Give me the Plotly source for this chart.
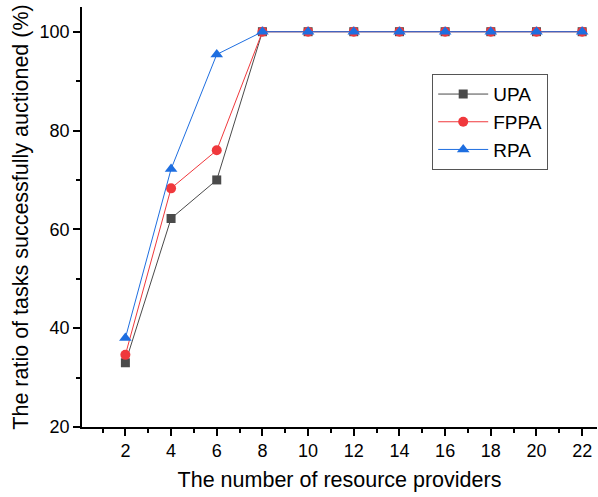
import plotly.graph_objects as go

x_vals = [2, 4, 6, 8, 10, 12, 14, 16, 18, 20, 22]
upa = [33.0, 62.2, 70.0, 100, 100, 100, 100, 100, 100, 100, 100]
fppa = [34.6, 68.3, 76.0, 100, 100, 100, 100, 100, 100, 100, 100]
rpa = [38.0, 72.2, 95.4, 100, 100, 100, 100, 100, 100, 100, 100]

FONT = "Liberation Sans, Arial"

fig = go.Figure()
fig.add_trace(go.Scatter(x=x_vals, y=upa, name="UPA", mode="lines+markers",
                         line=dict(color="#4a4a4a", width=1),
                         marker=dict(symbol="square", size=9, color="#4a4a4a")))
fig.add_trace(go.Scatter(x=x_vals, y=fppa, name="FPPA", mode="lines+markers",
                         line=dict(color="#f0383c", width=1),
                         marker=dict(symbol="circle", size=10, color="#f0383c")))
fig.add_trace(go.Scatter(x=x_vals, y=rpa, name="RPA", mode="lines+markers",
                         line=dict(color="#1e6ee0", width=1),
                         marker=dict(symbol="triangle-up", size=11, color="#1e6ee0")))

axis_common = dict(showline=True, linecolor="black", linewidth=1.5, ticks="outside",
                   ticklen=7, tickwidth=1.5, tickcolor="black", showgrid=False,
                   zeroline=False, mirror=False, automargin=False,
                   tickfont=dict(family=FONT, size=18, color="black"))

fig.update_xaxes(range=[0.1, 22.65], tickvals=x_vals,
                 minor=dict(ticks="outside", ticklen=4, tickwidth=1.5, tickcolor="black", dtick=2, tick0=1),
                 title=dict(text="The number of resource providers",
                            font=dict(family=FONT, size=21.5, color="black"), standoff=12),
                 **axis_common)
fig.update_yaxes(range=[20, 105], tickvals=[20, 40, 60, 80, 100],
                 minor=dict(ticks="outside", ticklen=4, tickwidth=1.5, tickcolor="black", dtick=20, tick0=30),
                 title=dict(text="The ratio of tasks successfully auctioned (%)",
                            font=dict(family=FONT, size=21.5, color="black"), standoff=5),
                 **axis_common)

fig.update_layout(
    width=598, height=497,
    margin=dict(l=82, r=1, t=7, b=70),
    plot_bgcolor="white", paper_bgcolor="white",
    legend=dict(x=0.68, y=0.840, xanchor="left", yanchor="top",
                bordercolor="#555555", borderwidth=1, bgcolor="white",
                font=dict(family=FONT, size=19, color="black"),
                itemwidth=50, tracegroupgap=0),
    showlegend=True,
)

fig.write_html("out.html", config={"displayModeBar": False},
               post_script="document.body.style.margin='0';document.body.style.overflow='hidden';")
